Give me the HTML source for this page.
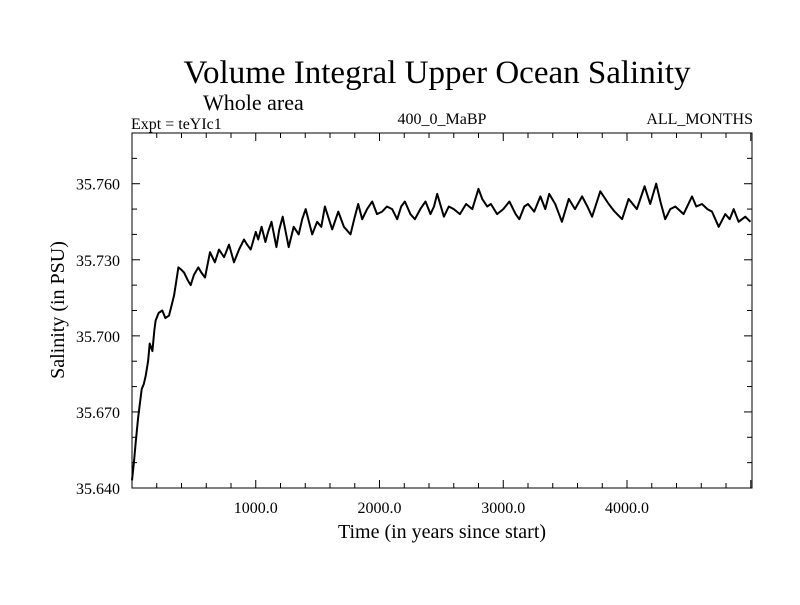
<!DOCTYPE html>
<html><head><meta charset="utf-8"><style>
body{margin:0;background:#fff;}
svg text{font-family:"Liberation Serif",serif;fill:#000;}
</style></head><body>
<svg id="chart" width="800" height="600" viewBox="0 0 800 600" xmlns="http://www.w3.org/2000/svg">
<rect width="800" height="600" fill="#fff"/>
<text x="437" y="83" font-size="33" text-anchor="middle">Volume Integral Upper Ocean Salinity</text>
<text x="203" y="110" font-size="22">Whole area</text>
<text x="131" y="129" font-size="16">Expt = teYIc1</text>
<text x="442" y="124" font-size="16" text-anchor="middle">400_0_MaBP</text>
<text x="753" y="124" font-size="16" text-anchor="end">ALL_MONTHS</text>
<text transform="translate(64,310) rotate(-90)" font-size="20" text-anchor="middle">Salinity (in PSU)</text>
<text x="442" y="538" font-size="20" text-anchor="middle">Time (in years since start)</text>
<g id="axes"></g>
<path id="series" fill="none" stroke="#000" stroke-width="2" stroke-linejoin="round"/>
<rect x="132" y="133" width="620" height="355" fill="none" stroke="#000" stroke-width="1"/>
</svg>
<script>
const years = [0,15,30,50,78,95,110,130,143,165,180,191,215,245,270,299,320,340,375,400,420,450,474,500,536,560,590,630,670,703,744,784,824,865,905,930,959,1000,1020,1047,1078,1100,1127,1167,1190,1218,1266,1307,1347,1375,1404,1456,1496,1530,1559,1618,1667,1712,1766,1800,1828,1860,1900,1941,1980,2022,2060,2102,2143,2175,2205,2250,2286,2330,2372,2412,2440,2466,2520,2560,2600,2650,2700,2750,2800,2830,2870,2900,2950,3000,3050,3100,3130,3170,3200,3250,3300,3340,3371,3420,3474,3530,3580,3637,3680,3718,3784,3852,3900,3960,4013,4080,4142,4187,4236,4270,4309,4350,4390,4457,4525,4560,4606,4650,4687,4741,4794,4830,4862,4902,4956,4997];
const salinity = [35.643,35.650,35.658,35.668,35.679,35.681,35.684,35.690,35.697,35.694,35.702,35.706,35.709,35.710,35.707,35.708,35.712,35.716,35.727,35.726,35.725,35.722,35.720,35.724,35.727,35.725,35.723,35.733,35.729,35.734,35.731,35.736,35.729,35.734,35.738,35.736,35.734,35.741,35.738,35.743,35.737,35.741,35.745,35.735,35.742,35.747,35.735,35.743,35.740,35.746,35.750,35.740,35.745,35.743,35.751,35.742,35.749,35.743,35.740,35.747,35.752,35.746,35.750,35.753,35.748,35.749,35.751,35.750,35.746,35.751,35.753,35.748,35.746,35.750,35.753,35.748,35.751,35.756,35.747,35.751,35.750,35.748,35.752,35.750,35.758,35.754,35.751,35.752,35.748,35.750,35.753,35.748,35.746,35.751,35.752,35.749,35.755,35.750,35.756,35.752,35.745,35.754,35.750,35.755,35.751,35.747,35.757,35.752,35.749,35.746,35.754,35.750,35.759,35.752,35.760,35.753,35.746,35.750,35.751,35.748,35.755,35.751,35.752,35.750,35.749,35.743,35.748,35.746,35.750,35.745,35.747,35.745];
const yTickValues = [35.640,35.670,35.700,35.730,35.760];
const yTickLabels = ["35.640","35.670","35.700","35.730","35.760"];
const xTickValues = [1000,2000,3000,4000];
const xTickLabels = ["1000.0","2000.0","3000.0","4000.0"];
const X0=132,X1=752,Y0=488,Y1=133,XMIN=0,XMAX=5010,YMIN=35.640,YMAX=35.780;
function xs(v){return X0+(v-XMIN)/(XMAX-XMIN)*(X1-X0);}
function ys(v){return Y0-(v-YMIN)/(YMAX-YMIN)*(Y0-Y1);}
const NS="http://www.w3.org/2000/svg";
const g=document.getElementById('axes');
function line(x1,y1,x2,y2,name){const l=document.createElementNS(NS,'line');
l.setAttribute('x1',x1);l.setAttribute('y1',y1);l.setAttribute('x2',x2);l.setAttribute('y2',y2);
l.setAttribute('stroke','#000');l.setAttribute('stroke-width','1');


g.appendChild(l);}
for(let v=200;v<XMAX;v+=200){const x=xs(v);const major=v%1000===0;const len=major?8:5;
line(x,Y0,x,Y0-len,'x-tick');line(x,Y1,x,Y1+len,'x-tick-top');}
for(let k=1;k<14;k++){const v=YMIN+k*0.01;const y=ys(v);const major=k%3===0;const len=major?8:5;
line(X0,y,X0+len,y,'y-tick');line(X1,y,X1-len,y,'y-tick-right');}
yTickValues.forEach((v,i)=>{const t=document.createElementNS(NS,'text');
t.setAttribute('x',X0-12);t.setAttribute('y',ys(v)+6);t.setAttribute('font-size','16');t.setAttribute('text-anchor','end');
t.textContent=yTickLabels[i];


g.appendChild(t);});
xTickValues.forEach((v,i)=>{const t=document.createElementNS(NS,'text');
t.setAttribute('x',xs(v));t.setAttribute('y',Y0+25);t.setAttribute('font-size','16');t.setAttribute('text-anchor','middle');
t.textContent=xTickLabels[i];


g.appendChild(t);});
let d='';years.forEach((yr,i)=>{d+=(i?'L':'M')+xs(yr).toFixed(1)+','+ys(salinity[i]).toFixed(1);});
document.getElementById('series').setAttribute('d',d);
</script>
</body></html>
